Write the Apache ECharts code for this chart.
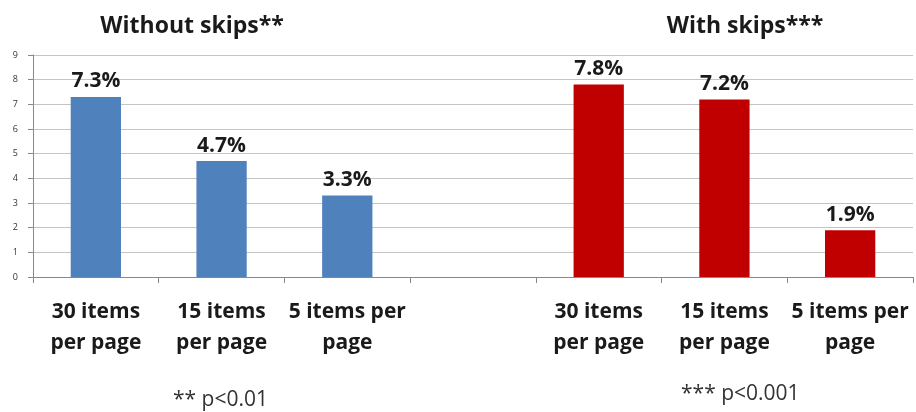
<!DOCTYPE html>
<html><head><meta charset="utf-8">
<script src="https://cdn.jsdelivr.net/npm/echarts@6/dist/echarts.min.js"></script>
<style>html,body{margin:0;padding:0;background:#fff}#c{width:916px;height:412px}</style>
</head><body><div id="c"></div>
<script>
const categories = ["30 items\nper page", "15 items\nper page", "5 items per\npage", "", "30 items\nper page", "15 items\nper page", "5 items per\npage"];
const withoutSkips = [7.3, 4.7, 3.3];
const withSkips = [7.8, 7.2, 1.9];
const yTicks = [0, 1, 2, 3, 4, 5, 6, 7, 8, 9];
const groupTitles = ["Without skips**", "With skips***"];
const footnotes = ["** p<0.01", "*** p<0.001"];
const blue = '#4F81BD', red = '#C00000';

const data = [];
withoutSkips.forEach(v => data.push({value: v, itemStyle: {color: blue}}));
data.push('-');
withSkips.forEach(v => data.push({value: v, itemStyle: {color: red}}));

const chart = echarts.init(document.getElementById('c'));
const F = '"Open Sans", sans-serif';
chart.setOption({
  animation: false,
  grid: {left: 33, right: 3, top: 55, bottom: 135},
  title: [
    {text: groupTitles[0], left: 187, top: 10, textAlign: 'center', textStyle: {fontFamily: F, fontSize: 23, fontWeight: 'bold', color: '#1a1a1a'}},
    {text: groupTitles[1], left: 740, top: 10, textAlign: 'center', textStyle: {fontFamily: F, fontSize: 23, fontWeight: 'bold', color: '#1a1a1a'}}
  ],
  graphic: [
    {type: 'text', left: 173, top: 390, style: {text: footnotes[0], font: '21px ' + F, fill: '#333'}},
    {type: 'text', left: 681, top: 384, style: {text: footnotes[1], font: '21px ' + F, fill: '#333'}}
  ],
  xAxis: {
    type: 'category', data: categories,
    axisLine: {lineStyle: {color: '#888', width: 1}},
    axisTick: {show: true, length: 6, lineStyle: {color: '#888'}},
    axisLabel: {interval: 0, margin: 20, fontFamily: F, fontSize: 21, fontWeight: 'bold', color: '#1a1a1a', lineHeight: 31}
  },
  yAxis: {
    type: 'value', min: yTicks[0], max: yTicks[yTicks.length - 1], interval: 1,
    axisLine: {show: true, lineStyle: {color: '#888'}},
    axisTick: {show: true, length: 5, lineStyle: {color: '#888'}},
    splitLine: {lineStyle: {color: '#c4c4c4'}},
    axisLabel: {fontSize: 9, fontFamily: F, color: '#333', margin: 15}
  },
  series: [{
    type: 'bar', data: data, barWidth: '40%',
    label: {show: true, position: 'top', distance: 5, formatter: p => p.value.toFixed(1) + '%', fontFamily: F, fontSize: 21, fontWeight: 'bold', color: '#1a1a1a'}
  }]
});
</script></body></html>
